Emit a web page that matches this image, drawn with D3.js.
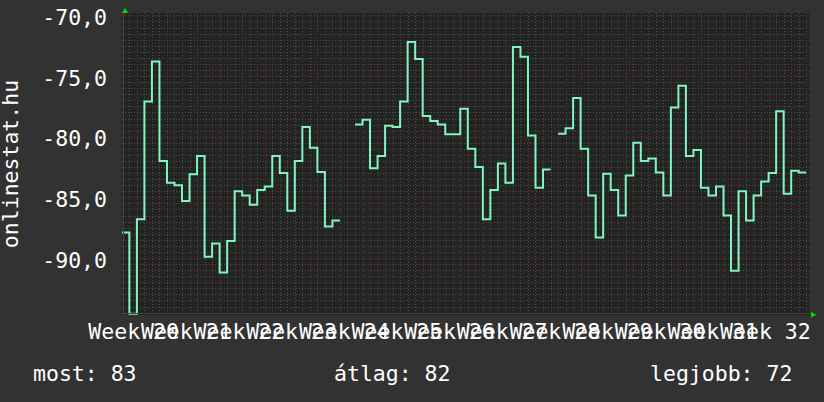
<!DOCTYPE html>
<html>
<head>
<meta charset="utf-8">
<script src="https://cdn.jsdelivr.net/npm/d3@7"></script>
<style>
body { margin: 0; background: #323232; }
svg { display: block; font-family: "DejaVu Sans Mono", monospace; }
</style>
</head>
<body>
<div id="chart"></div>
<script>
// days are counted from the start of week 20, first value belongs to day 2
var firstDay = 2;
var dailyValues = [
    -87.9, -94.6, -86.8, -77.1, -73.8, -82.0, -83.8, -84.0, -85.3, -83.1,
    -81.6, -89.9, -88.8, -91.2, -88.6, -84.5, -84.85, -85.6, -84.4, -84.1,
    -81.6, -83.0, -86.1, -82.0, -79.2, -80.9, -82.9, -87.4, -86.9,
    null, null,
    -79.0, -78.6, -82.6, -81.6, -79.1, -79.2, -77.1, -72.2, -73.6, -78.3,
    -78.7, -79.0, -79.8, -79.8, -77.7, -81.0, -82.5, -86.8, -84.4, -82.2,
    -83.8, -72.6, -73.4, -79.9, -84.2, -82.7,
    null,
    -79.75, -79.3, -76.8, -81.0, -84.85, -88.3, -83.05, -84.4, -86.5, -83.2,
    -80.5, -82.0, -81.8, -82.95, -84.85, -77.6, -75.8, -81.6, -81.1, -84.2,
    -84.85, -84.1, -86.5, -91.05, -84.5, -86.9, -84.85, -83.7, -83.0, -77.9,
    -84.7, -82.8, -82.95
];
var weekNumbers = d3.range(20, 33);
var yTickValues = [-90, -85, -80, -75, -70];
var legendLabels = ['most', 'átlag', 'legjobb'];
var legendValues = ['83', '82', '72'];
var axisTitle = 'onlinestat.hu';

var svgWidth = 824;
var svgHeight = 402;
var fontSize = '21.5px';

// plot area
var plot = { left: 122, right: 810, top: 13, bottom: 315 };

var svg = d3.select('#chart')
    .append('svg')
    .attr('width', svgWidth)
    .attr('height', svgHeight);

svg.append('rect')
    .attr('width', svgWidth)
    .attr('height', svgHeight)
    .attr('fill', '#323232');

var xScale = d3.scaleLinear()
    .domain([2.02, 93.5])
    .range([plot.left, plot.right]);

var yScale = d3.scaleLinear()
    .domain([-94.7, -69.8])
    .range([plot.bottom, plot.top]);

svg.append('rect')
    .attr('x', plot.left)
    .attr('y', plot.top)
    .attr('width', plot.right - plot.left)
    .attr('height', plot.bottom - plot.top)
    .attr('fill', '#232323');

// grid
var minorDays = d3.range(3, 94).filter(d => d % 7 != 0);
var majorDays = d3.range(7, 94, 7);
var minorY = d3.range(-94.5, -69.9, 0.5).filter(v => v % 5 != 0);

var grid = svg.append('g');

grid.selectAll('.vminor').data(minorDays).enter()
    .append('line')
    .attr('x1', d => Math.round(xScale(d)) + 0.5)
    .attr('x2', d => Math.round(xScale(d)) + 0.5)
    .attr('y1', plot.top)
    .attr('y2', plot.bottom)
    .attr('stroke', '#4c4c4c')
    .attr('stroke-dasharray', '1,2');

grid.selectAll('.hminor').data(minorY).enter()
    .append('line')
    .attr('x1', plot.left)
    .attr('x2', plot.right)
    .attr('y1', d => Math.round(yScale(d)) + 0.5)
    .attr('y2', d => Math.round(yScale(d)) + 0.5)
    .attr('stroke', '#4c4c4c')
    .attr('stroke-dasharray', '1,2');

grid.selectAll('.vmajor').data(majorDays).enter()
    .append('line')
    .attr('x1', d => Math.round(xScale(d)) + 0.5)
    .attr('x2', d => Math.round(xScale(d)) + 0.5)
    .attr('y1', plot.top)
    .attr('y2', plot.bottom)
    .attr('stroke', '#7a3434')
    .attr('stroke-dasharray', '1,2');

grid.selectAll('.hmajor').data(yTickValues).enter()
    .append('line')
    .attr('x1', plot.left)
    .attr('x2', plot.right)
    .attr('y1', d => Math.round(yScale(d)) + 0.5)
    .attr('y2', d => Math.round(yScale(d)) + 0.5)
    .attr('stroke', '#7a3434')
    .attr('stroke-dasharray', '1,2');

// step line, every day gets a start and an end point
var points = [];
dailyValues.forEach(function(v, i) {
    var day = firstDay + i;
    if (v == null) {
        points.push({ t: day, v: null });
    } else {
        points.push({ t: day, v: v });
        points.push({ t: day + 1, v: v });
    }
});

svg.append('clipPath')
    .attr('id', 'plotClip')
    .append('rect')
    .attr('x', plot.left)
    .attr('y', plot.top)
    .attr('width', plot.right - plot.left)
    .attr('height', plot.bottom - plot.top);

var line = d3.line()
    .defined(d => d.v != null)
    .x(d => xScale(d.t))
    .y(d => yScale(d.v));

svg.append('path')
    .datum(points)
    .attr('clip-path', 'url(#plotClip)')
    .attr('d', line)
    .attr('fill', 'none')
    .attr('stroke', '#80f5bd')
    .attr('stroke-width', 2)
    .attr('stroke-linejoin', 'miter');

// axis lines and arrows
svg.append('line')
    .attr('x1', plot.left + 1.5).attr('x2', plot.left + 1.5)
    .attr('y1', plot.top).attr('y2', plot.bottom)
    .attr('stroke', '#444');
svg.append('line')
    .attr('x1', plot.left).attr('x2', plot.right)
    .attr('y1', plot.bottom - 1.5).attr('y2', plot.bottom - 1.5)
    .attr('stroke', '#444');

svg.append('path')
    .attr('d', `M${plot.left},${plot.top} L${plot.left + 6},${plot.top} L${plot.left + 3},${plot.top - 5} Z`)
    .attr('fill', '#00dd00');
svg.append('path')
    .attr('d', `M${plot.right + 1},${plot.bottom - 3} L${plot.right + 1},${plot.bottom + 2.5} L${plot.right + 6.5},${plot.bottom - 0.3} Z`)
    .attr('fill', '#00dd00');

// tick labels
var huLocale = d3.formatLocale({ decimal: ',', thousands: '.', grouping: [3], currency: ['', ' Ft'], minus: '-' });
var yFormat = huLocale.format('.1f');

var leftAxis = d3.axisLeft(yScale)
    .tickValues(yTickValues)
    .tickSize(0)
    .tickPadding(15)
    .tickFormat(yFormat);

// week labels sit in the middle of their week
var bottomAxis = d3.axisBottom(xScale)
    .tickValues(weekNumbers.map(w => (w - 20) * 7 + 3.5))
    .tickSize(0)
    .tickPadding(9)
    .tickFormat((d, i) => 'Week ' + weekNumbers[i]);

var yAxisG = svg.append('g')
    .attr('transform', `translate(${plot.left},0)`)
    .call(leftAxis);
var xAxisG = svg.append('g')
    .attr('transform', `translate(0,${plot.bottom})`)
    .call(bottomAxis);

[yAxisG, xAxisG].forEach(function(g) {
    g.select('.domain').remove();
    g.selectAll('text')
        .attr('fill', '#ffffff')
        .style('font-family', '"DejaVu Sans Mono", monospace')
        .style('font-size', fontSize);
});
yAxisG.selectAll('text').attr('dy', '0.42em');

// vertical title
svg.append('text')
    .attr('transform', 'translate(18,164) rotate(-90)')
    .attr('text-anchor', 'middle')
    .attr('fill', '#ffffff')
    .style('font-size', fontSize)
    .text(axisTitle);

// legend
var legendX = [33, 334, 650];
svg.append('g').selectAll('text')
    .data(legendLabels)
    .enter()
    .append('text')
    .attr('x', (d, i) => legendX[i])
    .attr('y', 381)
    .attr('fill', '#ffffff')
    .style('font-size', fontSize)
    .text((d, i) => d + ': ' + legendValues[i]);
</script>
</body>
</html>
